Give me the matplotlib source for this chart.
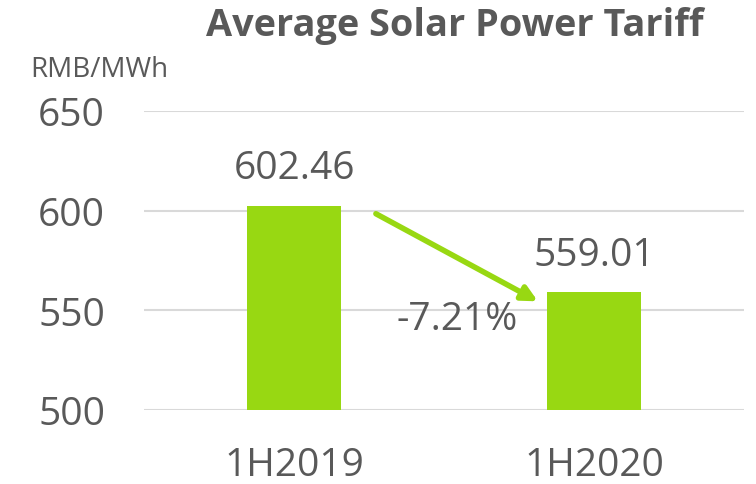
import matplotlib
matplotlib.use("Agg")
import matplotlib.pyplot as plt

categories = ["1H2019", "1H2020"]
values = [602.46, 559.01]
yticks = [500, 550, 600, 650]
title = "Average Solar Power Tariff"
unit = "RMB/MWh"

bar_color = "#98D812"
text_color = "#595959"
grid_color = "#D9D9D9"

plt.rcParams['font.family'] = ['Open Sans', 'DejaVu Sans']

fig = plt.figure(figsize=(7.56, 4.85), dpi=100)
ax = fig.add_axes([144/756, 74/485, 600/756, 299/485])

x = list(range(len(categories)))
ax.bar(x, [v - yticks[0] for v in values], bottom=yticks[0], width=0.313,
       color=bar_color, zorder=3)
ax.set_xlim(-0.5, len(categories) - 0.5)
ax.set_ylim(yticks[0], yticks[-1])
ax.set_yticks(yticks)
ax.set_xticks(x)
ax.set_xticklabels(categories)
ax.tick_params(axis='both', length=0, labelsize=28, colors=text_color)
ax.tick_params(axis='y', pad=28)
ax.tick_params(axis='x', pad=26)
for s in ax.spines.values():
    s.set_visible(False)
ax.grid(axis='y', color=grid_color, linewidth=1.5, zorder=0)
ax.set_axisbelow(True)

for xi, v in zip(x, values):
    ax.annotate(f"{v:.2f}", (xi, v), xytext=(0, 20), textcoords='offset points',
                ha='center', va='baseline', fontsize=28, color=text_color)

# change arrow
ax.annotate("", xy=(x[1] - 0.187, values[1] - 4.5), xytext=(x[0] + 0.273, values[0] - 4),
            arrowprops=dict(arrowstyle='-|>,head_length=0.9,head_width=0.45',
                            color=bar_color, lw=4, shrinkA=0, shrinkB=0), zorder=4)
change = (values[1] - values[0]) / values[0] * 100
ax.text(0.543, 545.5, f"{change:.2f}%", ha='center', va='center', fontsize=28,
        color=text_color)

fig.text(455/756, 1 - 36/485, title, ha='center', va='baseline', fontsize=27.3,
         fontweight='bold', color=text_color)
fig.text(30/756, 1 - 77/485, unit, ha='left', va='baseline', fontsize=20,
         color=text_color)

fig.savefig("out.png", dpi=100)
